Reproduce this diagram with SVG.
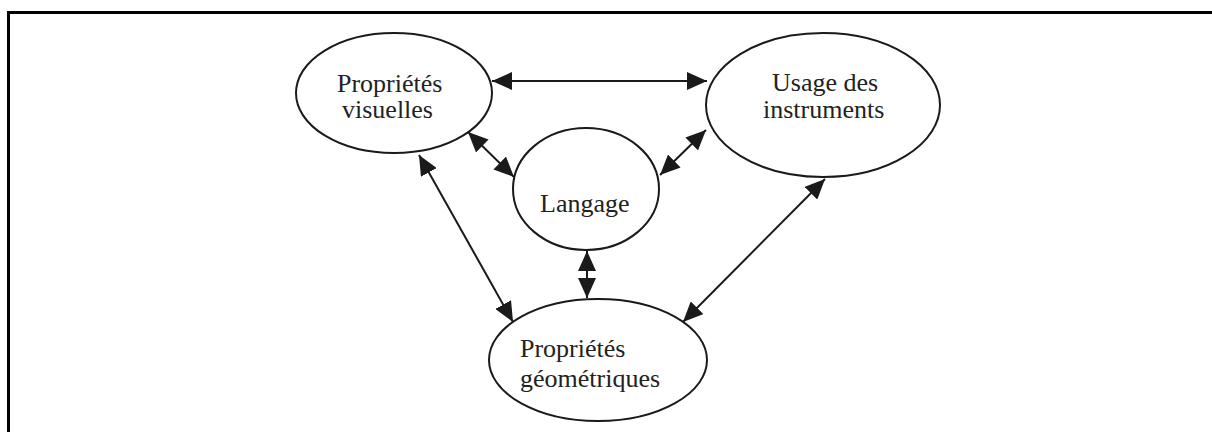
<svg xmlns="http://www.w3.org/2000/svg" width="1212" height="432" viewBox="0 0 1212 432">
<style>
.node ellipse{fill:#fff;stroke:#1a1a1a;stroke-width:2}
.node text{font-family:"Liberation Serif","Times New Roman",serif;font-size:26px;fill:#222}
.conn line{stroke:#1a1a1a;stroke-width:2;marker-start:url(#ah);marker-end:url(#ah)}
.frame{fill:none;stroke:#000;stroke-width:3}
</style>
<defs>
<marker id="ah" markerUnits="userSpaceOnUse" markerWidth="20" markerHeight="18" refX="20" refY="9" orient="auto-start-reverse" viewBox="0 0 20 18">
<path d="M0,0 L20,9 L0,18 z" fill="#1a1a1a"/>
</marker>
</defs>
<rect width="1212" height="432" fill="#fff"/>
<path class="frame" d="M8.5,432 V12.5 H1212"/>
<g class="conn">
<line x1="492" y1="81" x2="707" y2="81"/>
<line x1="468" y1="132" x2="514" y2="177"/>
<line x1="706" y1="130" x2="660" y2="175"/>
<line x1="587" y1="251" x2="587" y2="298"/>
<line x1="419" y1="155" x2="513" y2="322"/>
<line x1="825" y1="179" x2="683" y2="322"/>
</g>
<g id="visuelles" class="node">
<ellipse cx="394" cy="93" rx="98" ry="60"/>
<text x="337" y="92">Propriétés</text>
<text x="342" y="118">visuelles</text>
</g>
<g id="instruments" class="node">
<ellipse cx="823" cy="105" rx="117" ry="72"/>
<text x="772" y="91">Usage des</text>
<text x="763" y="118">instruments</text>
</g>
<g id="langage" class="node">
<ellipse cx="586" cy="189" rx="73" ry="61"/>
<text x="540" y="212">Langage</text>
</g>
<g id="geometriques" class="node">
<ellipse cx="598" cy="360" rx="109" ry="61"/>
<text x="520" y="357">Propriétés</text>
<text x="520" y="387">géométriques</text>
</g>
</svg>
